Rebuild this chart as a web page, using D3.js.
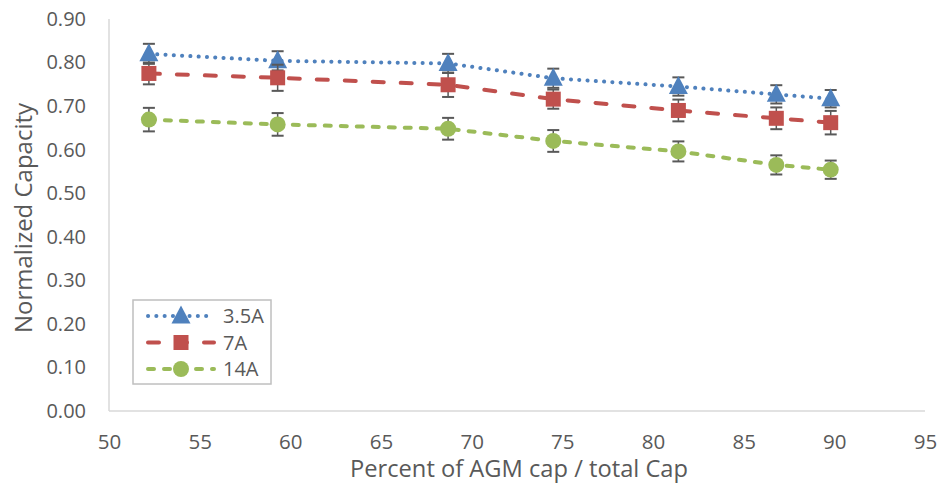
<!DOCTYPE html>
<html><head><meta charset="utf-8">
<script src="https://cdn.jsdelivr.net/npm/d3@7"></script>
<style>body{margin:0;background:#fff}</style>
</head><body>
<svg id="c" width="943" height="492"></svg>
<script>
const xValues = [52.2, 59.3, 68.7, 74.5, 81.4, 86.8, 89.8];
const seriesNames = ["3.5A", "7A", "14A"];
const values35 = [0.820, 0.804, 0.798, 0.764, 0.745, 0.727, 0.717];
const values7  = [0.775, 0.765, 0.749, 0.716, 0.690, 0.672, 0.662];
const values14 = [0.669, 0.658, 0.648, 0.620, 0.596, 0.565, 0.554];
const errors35 = [0.023, 0.022, 0.022, 0.022, 0.021, 0.021, 0.020];
const errors7  = [0.025, 0.030, 0.028, 0.022, 0.025, 0.025, 0.027];
const errors14 = [0.027, 0.026, 0.025, 0.025, 0.023, 0.022, 0.021];
const xTicks = [50, 55, 60, 65, 70, 75, 80, 85, 90, 95];
const yTicks = [0, 0.1, 0.2, 0.3, 0.4, 0.5, 0.6, 0.7, 0.8, 0.9];

(function(){
const svg = d3.select("#c");
const mLeft = 109, mRight = 925, mTop = 19, mBottom = 411;
const x = d3.scaleLinear().domain([50, 95]).range([mLeft, mRight]);
const y = d3.scaleLinear().domain([0, 0.9]).range([mBottom, mTop]);
const textColor = "#595959";
const font = "'Open Sans', 'Liberation Sans', sans-serif";

svg.append("line").attr("x1", mLeft).attr("x2", mLeft).attr("y1", mTop).attr("y2", mBottom)
  .attr("stroke", "#d9d9d9").attr("stroke-width", 1.5);
svg.append("line").attr("x1", mLeft).attr("x2", mRight).attr("y1", mBottom).attr("y2", mBottom)
  .attr("stroke", "#d9d9d9").attr("stroke-width", 1.5);

const yAxis = d3.axisLeft(y).tickValues(yTicks).tickFormat(d3.format(".2f")).tickSize(0).tickPadding(23);
const gy = svg.append("g").attr("transform", `translate(${mLeft},0)`).call(yAxis);
gy.select(".domain").remove();
gy.selectAll("text").attr("fill", textColor).style("font-family", font).style("font-size", "20px");

const xAxis = d3.axisBottom(x).tickValues(xTicks).tickFormat(d3.format("d")).tickSize(0).tickPadding(23);
const gx = svg.append("g").attr("transform", `translate(0,${mBottom})`).call(xAxis);
gx.select(".domain").remove();
gx.selectAll("text").attr("fill", textColor).style("font-family", font).style("font-size", "20.5px");

svg.append("text").attr("x", 519).attr("y", 477).attr("text-anchor", "middle")
  .attr("fill", textColor).style("font-family", font).style("font-size", "23px")
  .attr("textLength", 338).attr("lengthAdjust", "spacingAndGlyphs")
  .text("Percent of AGM cap / total Cap");
svg.append("text").attr("transform", "translate(32,218) rotate(-90)").attr("text-anchor", "middle")
  .attr("fill", textColor).style("font-family", font).style("font-size", "24px")
  .attr("textLength", 230).attr("lengthAdjust", "spacingAndGlyphs")
  .text("Normalized Capacity");

const series = [
  {name: seriesNames[0], vals: values35, errs: errors35, color: "#4F81BD", dash: "0.1 8.2", cap: "round", marker: "triangle"},
  {name: seriesNames[1], vals: values7, errs: errors7, color: "#C0504D", dash: "11 17", cap: "round", marker: "square"},
  {name: seriesNames[2], vals: values14, errs: errors14, color: "#9BBB59", dash: "6 10", cap: "round", marker: "circle"}
];

const line = d3.line().x(d => x(d[0])).y(d => y(d[1]));

function drawMarker(g, type, cx, cy, color) {
  if (type === "triangle") {
    g.append("path").attr("d", `M${cx},${cy-10.5}L${cx+9.5},${cy+7.5}L${cx-9.5},${cy+7.5}Z`).attr("fill", color);
  } else if (type === "square") {
    g.append("rect").attr("x", cx-7.5).attr("y", cy-7.5).attr("width", 15).attr("height", 15).attr("fill", color);
  } else {
    g.append("circle").attr("cx", cx).attr("cy", cy).attr("r", 8).attr("fill", color);
  }
}

series.forEach(s => {
  const pts = xValues.map((xv, i) => [xv, s.vals[i]]);
  const g = svg.append("g");
  g.append("path").attr("d", line(pts)).attr("fill", "none").attr("stroke", s.color)
    .attr("stroke-width", 4).attr("stroke-dasharray", s.dash).attr("stroke-linecap", s.cap);
  pts.forEach((p, i) => {
    const cx = x(p[0]), y1 = y(p[1] + s.errs[i]), y2 = y(p[1] - s.errs[i]);
    g.append("line").attr("x1", cx).attr("x2", cx).attr("y1", y1).attr("y2", y2).attr("stroke", "#595959").attr("stroke-width", 1.5);
    [y1, y2].forEach(yy => g.append("line").attr("x1", cx-6).attr("x2", cx+6).attr("y1", yy).attr("y2", yy).attr("stroke", "#595959").attr("stroke-width", 2));
  });
  pts.forEach(p => drawMarker(g, s.marker, x(p[0]), y(p[1]), s.color));
});

const lg = svg.append("g");
lg.append("rect").attr("x", 133).attr("y", 300).attr("width", 138).attr("height", 84)
  .attr("fill", "#fff").attr("stroke", "#bfbfbf").attr("stroke-width", 1.5);
series.forEach((s, i) => {
  const ly = 316 + i * 26.5;
  lg.append("line").attr("x1", 148).attr("x2", 214).attr("y1", ly).attr("y2", ly)
    .attr("stroke", s.color).attr("stroke-width", 4).attr("stroke-dasharray", s.dash).attr("stroke-linecap", s.cap);
  drawMarker(lg, s.marker, 181, ly, s.color);
  lg.append("text").attr("x", 223).attr("y", ly).attr("dy", "0.36em").attr("fill", textColor)
    .style("font-family", font).style("font-size", "20px").text(s.name);
});
})();
</script>
</body></html>
